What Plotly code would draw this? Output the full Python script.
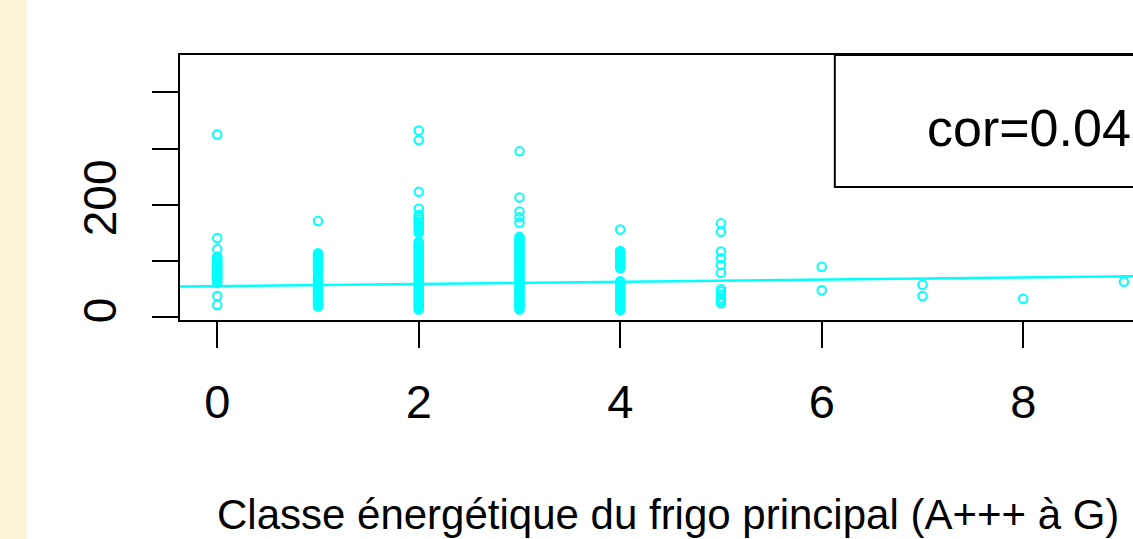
import plotly.graph_objects as go

# ---- data ----
x_classes = [0, 1, 2, 3, 4, 5, 6, 7, 8, 9]

col0 = [325, 141, 121, 108, 105, 102, 99, 96, 93, 90, 87, 84, 81, 78, 75, 72, 69, 66, 61, 38, 22]
col1 = [171, 114, 111, 108, 105, 102, 99, 96, 93, 90, 87, 84, 81,
        72, 69, 66, 63, 60, 57, 54, 51, 48, 45, 42, 39, 36, 33, 30, 27, 24, 21, 19]
col2 = [332, 315, 223, 193, 182, 178, 174, 170, 166, 162, 158, 154, 150,
        134, 131, 128, 125, 122, 119, 116, 113, 110, 107, 104, 101, 98, 95, 92, 89, 86, 83, 80,
        77, 74, 71, 68, 65, 62, 59, 56, 53, 50, 47, 44, 41, 38, 35, 32, 29, 26, 23, 20, 17, 14]
col3 = [295, 213, 188, 178, 168,
        143, 140, 137, 134, 131, 128, 125, 122, 119, 116, 113, 110, 107, 104, 101, 98, 95, 92, 89,
        86, 83, 80, 77, 74, 71, 68, 65, 62, 59, 56, 53, 50, 47, 44, 41, 38, 35, 32, 29, 26, 23, 20, 17, 14]
col4 = [156, 118, 115, 112, 109, 106, 103, 100, 97, 94, 91, 87,
        64, 61, 58, 55, 52, 49, 46, 43, 40, 37, 34, 31, 28, 25, 22, 19, 16, 13]
col5 = [167, 152, 117, 105, 93, 79, 50, 46, 40, 34, 29, 25]
col6 = [90, 48]
col7 = [58, 38]
col8 = [33]
col9 = [63]
columns = [col0, col1, col2, col3, col4, col5, col6, col7, col8, col9]

reg_intercept = 55.5
reg_slope = 1.91
reg_x = [-0.5, 9.6]

x_tick_vals = [0, 2, 4, 6, 8]
x_tick_text = ["0", "2", "4", "6", "8"]
y_tick_vals = [0, 100, 200, 300, 400]
y_tick_text = ["0", "", "200", "", ""]

legend_text = "cor=0.04"
x_title = "Classe énergétique du frigo principal (A+++ à G)"

# ---- build ----
px, py = [], []
for xc, vals in zip(x_classes, columns):
    px += [xc] * len(vals)
    py += vals

CYAN = "#00FFFF"
FONT = "Liberation Sans, Arial, sans-serif"

fig = go.Figure()
fig.add_trace(go.Scatter(
    x=px, y=py, mode="markers",
    marker=dict(symbol="circle-open", size=8.5, color=CYAN, line=dict(color=CYAN, width=2)),
    showlegend=False, hoverinfo="skip"))
fig.add_trace(go.Scatter(
    x=reg_x, y=[reg_intercept + reg_slope * v for v in reg_x], mode="lines",
    line=dict(color=CYAN, width=2.5), showlegend=False, hoverinfo="skip"))

L, T, W, H = 180, 55, 1133, 539
B = 320
pw, ph = W - L, B - T

def paper_x(p):
    return (p - L) / pw

def paper_y(p):
    return (B - p) / ph

# beige strip at far left
fig.add_shape(type="rect", xref="paper", yref="paper",
              x0=paper_x(-5), x1=paper_x(27), y0=paper_y(H + 5), y1=paper_y(-5),
              fillcolor="#FDF3D8", line=dict(width=0), layer="below")

# legend box (cut by the right edge)
fig.add_shape(type="rect", xref="x", yref="y",
              x0=6.13, x1=9.8, y0=231.6, y1=466.3,
              fillcolor="white", line=dict(color="black", width=2), layer="above")

fig.add_annotation(x=paper_x(925), y=paper_y(128), xref="paper", yref="paper",
                   text=legend_text, showarrow=False, xanchor="left", yanchor="middle",
                   font=dict(family=FONT, size=52, color="black"))

fig.add_annotation(x=paper_x(668), y=paper_y(514), xref="paper", yref="paper",
                   text=x_title, showarrow=False, xanchor="center", yanchor="middle",
                   font=dict(family=FONT, size=42, color="black"))

fig.update_xaxes(range=[-0.37, 9.09], tickvals=x_tick_vals, ticktext=x_tick_text,
                 showgrid=False, zeroline=False, showline=True, mirror=True,
                 linecolor="black", linewidth=2, ticks="outside", ticklen=26,
                 tickwidth=2, tickcolor="black", ticklabelstandoff=14,
                 tickfont=dict(family=FONT, size=47, color="black"))
fig.update_yaxes(range=[-4.8, 466.3], tickvals=y_tick_vals, ticktext=y_tick_text,
                 showgrid=False, zeroline=False, showline=True, mirror=False,
                 linecolor="black", linewidth=2, ticks="outside", ticklen=26,
                 tickwidth=2, tickcolor="black", tickangle=-90, ticklabelstandoff=18,
                 tickfont=dict(family=FONT, size=46, color="black"))

fig.update_layout(width=W, height=H, margin=dict(l=L, r=0, t=T, b=H - B, pad=0),
                  paper_bgcolor="white", plot_bgcolor="white")

fig.write_html("out.html", config={"displayModeBar": False},
               post_script="document.body.style.margin='0';document.body.style.overflow='hidden';")
